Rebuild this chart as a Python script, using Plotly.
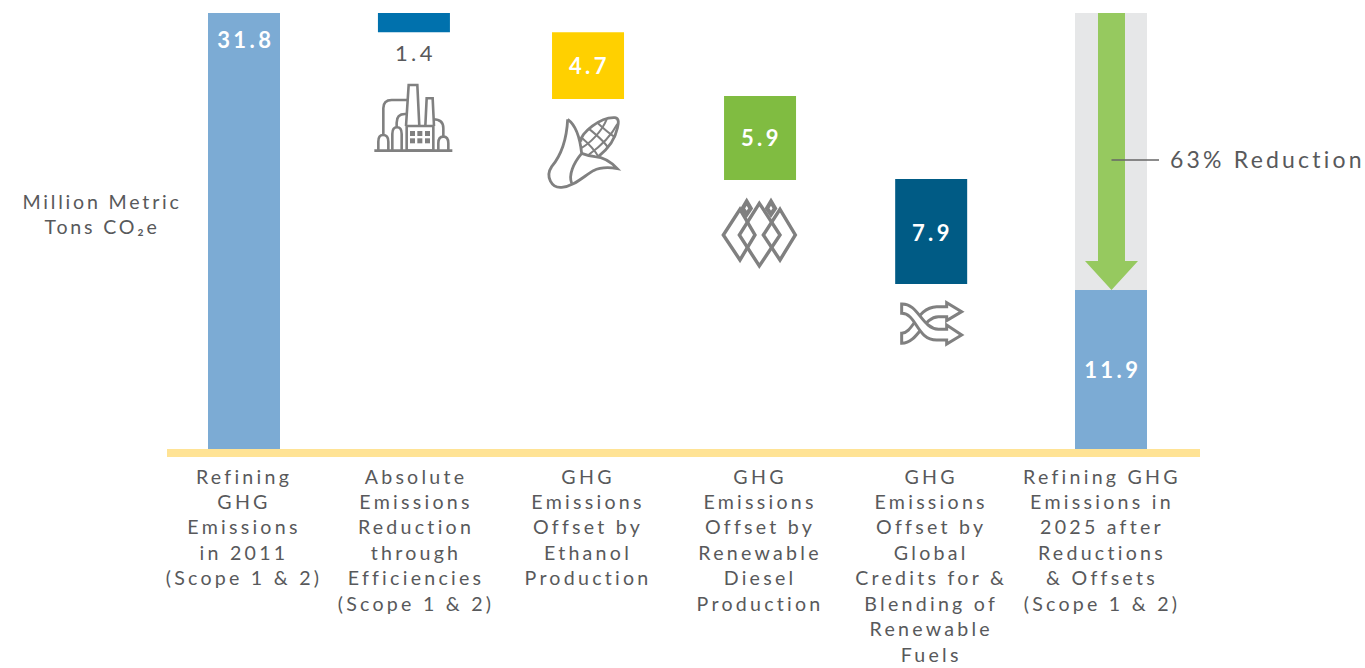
import re
import plotly.graph_objects as go

# ---- data ----
categories = [
    "Refining<br>GHG<br>Emissions<br>in 2011<br>(Scope 1 & 2)",
    "Absolute<br>Emissions<br>Reduction<br>through<br>Efficiencies<br>(Scope 1 & 2)",
    "GHG<br>Emissions<br>Offset by<br>Ethanol<br>Production",
    "GHG<br>Emissions<br>Offset by<br>Renewable<br>Diesel<br>Production",
    "GHG<br>Emissions<br>Offset by<br>Global<br>Credits for &<br>Blending of<br>Renewable<br>Fuels",
    "Refining GHG<br>Emissions in<br>2025 after<br>Reductions<br>& Offsets<br>(Scope 1 & 2)",
]
value_labels = ["31.8", "1.4", "4.7", "5.9", "7.9", "11.9"]
bar_top = [31.8, 31.8, 30.4, 25.75, 19.69, 11.6]
bar_bottom = [0.0, 30.4, 25.53, 19.62, 12.03, 0.0]
reduction_top = 31.8
reduction_bottom = 11.6

# ---- layout / style (kept apart from the values) ----
W, H = 1365, 668
PX_X0, PX_SLOT = 244.0, 173.4
PX_Y0, PX_UNIT = 449.0, 13.71
bar_slots = [0, 0.98, 1.984, 2.976, 3.963, 5.0]
label_slots = [0, 0.992, 1.984, 2.976, 3.963, 4.948]
bar_width = 72 / PX_SLOT
bar_colors = ["#7cabd4", "#0071ad", "#ffd000", "#80bc41", "#005b85", "#7cabd4"]
label_y = [29.85, 28.95, 27.96, 22.7, 15.77, 5.83]
label_colors = ["#ffffff", "#58595b", "#ffffff", "#ffffff", "#ffffff", "#ffffff"]
label_nudge = 1.5 / PX_SLOT
TEXT = "#58595b"
ICON = "#808080"
FONT = "Lato, 'Noto Sans', sans-serif"


def X(px):
    return (px - PX_X0) / PX_SLOT


def Y(py):
    return (PX_Y0 - py) / PX_UNIT


def icon_path(d, ox, oy):
    """Zoomed-crop icon outline -> data-space SVG path."""
    out, pair = [], []
    for tok in re.findall(r"[MLCQZ]|-?\d+\.?\d*", d):
        if tok.isalpha():
            out.append(tok)
        else:
            pair.append(float(tok))
            if len(pair) == 2:
                out.append(f"{X(pair[0] / 3 + ox):.4f},{Y(pair[1] / 3 + oy):.4f}")
                pair = []
    return " ".join(out)


def icon_shape(d, ox, oy, fill="rgba(0,0,0,0)", line=ICON, width=2.6):
    return dict(type="path", path=icon_path(d, ox, oy), xref="x", yref="y",
                fillcolor=fill, line=dict(color=line, width=width), layer="above")


fig = go.Figure()
fig.add_bar(x=[bar_slots[5]], y=[reduction_top - reduction_bottom], base=[reduction_bottom],
            width=bar_width, marker=dict(color="#e6e7e8", line_width=0), hoverinfo="skip")
fig.add_bar(x=bar_slots, y=[t - b for t, b in zip(bar_top, bar_bottom)], base=bar_bottom,
            width=bar_width, marker=dict(color=bar_colors, line_width=0))

shapes = []
# baseline
shapes.append(dict(type="rect", xref="x", yref="y", x0=X(167), x1=X(1200), y0=Y(457), y1=0,
                   fillcolor="#ffe395", line_width=0, layer="above"))
# reduction arrow
cx = bar_slots[5] + 0.5 / PX_SLOT
sw, hw = 13.5 / PX_SLOT, 26.5 / PX_SLOT
neck = reduction_bottom + 29 / PX_UNIT
shapes.append(dict(type="path", xref="x", yref="y", fillcolor="#96c95f", line_width=0, layer="above",
                   path=(f"M{cx - sw},{reduction_top} L{cx + sw},{reduction_top} L{cx + sw},{neck} "
                         f"L{cx + hw},{neck} L{cx},{reduction_bottom} L{cx - hw},{neck} L{cx - sw},{neck} Z")))
shapes.append(dict(type="line", xref="x", yref="y", x0=cx, x1=X(1159), y0=Y(160), y1=Y(160),
                   line=dict(color="#666666", width=1.4), layer="above"))

# factory icon
F = (340, 0)
for d in [
    "M103,452 L337,452",
    "M198,378 L206,255 L232,255 L238,378",
    "M256,378 L260,295 L278,295 L282,378",
    "M200,378 L280,378 L280,452 L200,452 Z",
    "M130,405 L130,325 Q130,300 155,300 L202,300",
    "M170,382 L170,368 Q170,342 195,342 L202,342",
    "M280,358 Q310,358 310,385 L310,410",
    "M115,452 L115,425 Q115,405 129,405 Q145,405 145,425 L145,452",
    "M157,452 L157,402 Q157,382 171,382 Q185,382 185,402 L185,452",
    "M295,452 L295,430 Q295,410 310,410 Q325,410 325,430 L325,452",
]:
    shapes.append(icon_shape(d, *F))
for wx in (210, 232, 255):
    for wy in (393, 415):
        shapes.append(icon_shape(f"M{wx},{wy} L{wx + 15},{wy} L{wx + 15},{wy + 15} L{wx},{wy + 15} Z",
                                 *F, fill=ICON, width=0))

# corn icon
for d in [
    "M722,425 C722,400 780,350 825,353 C838,355 836,370 832,385 C825,420 800,450 775,470",
    "M683,358 C700,370 718,395 725,460 C700,490 685,525 695,550",
    "M683,358 C680,420 660,470 635,500 C615,530 635,565 665,562 C700,560 730,530 760,512 C785,500 810,502 832,506 C815,488 795,472 765,470 C750,468 738,465 725,460",
]:
    shapes.append(icon_shape(d, *F, width=2.8))
for d in [
    "M722,410 C745,430 765,450 775,470",
    "M745,385 C770,405 795,425 805,445",
    "M772,368 C790,385 815,405 826,412",
    "M722,445 C750,430 785,395 800,358",
    "M745,465 C780,440 815,405 832,372",
]:
    shapes.append(icon_shape(d, *F, width=2))

# diamonds icon
D = (700, 170)
for d in [
    "M120,118 L165,195 L120,270 L70,195 Z",
    "M178,100 L240,195 L178,288 L118,195 Z",
    "M240,118 L286,195 L240,270 L190,195 Z",
]:
    shapes.append(icon_shape(d, *D, width=3.4))
for d in [
    "M140,95 L152,115 L140,133 L128,115 Z",
    "M213,95 L225,115 L213,133 L201,115 Z",
]:
    shapes.append(icon_shape(d, *D, width=4.2))

# shuffle icon
for d in [
    "M605,490 C640,490 650,412 710,410 L740,410 L740,398 L785,425 L740,452 L740,440 L715,440 C670,440 655,520 605,520 Z",
    "M605,402 C655,400 665,475 715,478 L740,478 L740,465 L785,495 L740,522 L740,510 L710,510 C650,510 650,430 605,430 Z",
]:
    shapes.append(icon_shape(d, *D, fill="#ffffff", width=3))

annotations = [
    dict(x=bar_slots[i] + label_nudge, y=label_y[i], text=value_labels[i], showarrow=False,
         xref="x", yref="y",
         font=dict(family=FONT, size=22, color=label_colors[i],
                   weight=400 if i == 1 else 700))
    for i in range(6)
]
annotations.append(dict(x=X(102), y=Y(214.5), text="Million Metric<br>Tons CO₂e", showarrow=False,
                        xref="x", yref="y", align="center",
                        font=dict(family=FONT, size=19.6, color=TEXT)))
annotations.append(dict(x=X(1168), y=Y(159), text="63% Reduction", showarrow=False, xref="x", yref="y",
                        xanchor="left", align="left", font=dict(family=FONT, size=23, color=TEXT)))

fig.update_layout(
    width=W, height=H, showlegend=False, barmode="overlay",
    margin=dict(l=0, r=0, t=13, b=H - 457, autoexpand=False),
    paper_bgcolor="#ffffff", plot_bgcolor="#ffffff",
    shapes=shapes, annotations=annotations,
    xaxis=dict(range=[X(0), X(W)], showgrid=False, zeroline=False, showline=False,
               tickmode="array", tickvals=label_slots, ticktext=categories, tickangle=0,
               ticks="outside", ticklen=2, tickcolor="rgba(0,0,0,0)",
               tickfont=dict(family=FONT, size=19.6, color=TEXT), fixedrange=True),
    yaxis=dict(range=[Y(457), 31.8], visible=False, fixedrange=True),
)

post = """
var s=document.createElement('style');
s.textContent='body{margin:0;overflow:hidden}.xtick text{letter-spacing:3.25px}.annotation-text{letter-spacing:3.4px}'
+'.annotation[data-index="6"] .annotation-text{letter-spacing:2.8px}'
+'.annotation[data-index="7"] .annotation-text{letter-spacing:3.2px}';
document.head.appendChild(s);
"""
fig.write_html("out.html", post_script=post, config={"displayModeBar": False})
